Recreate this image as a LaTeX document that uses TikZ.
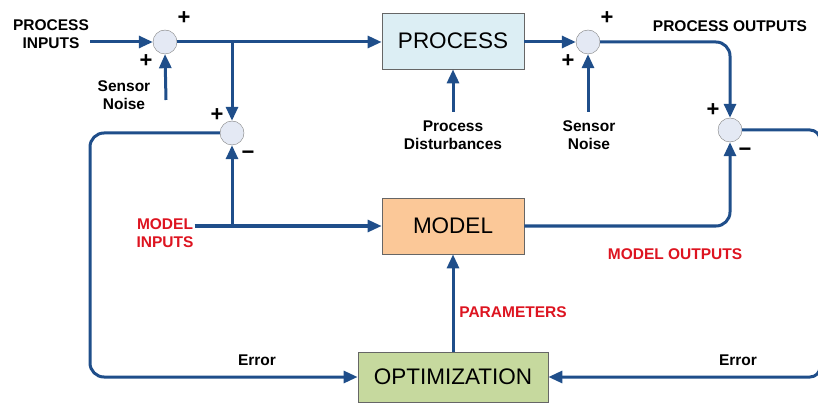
\documentclass[tikz,border=0pt]{standalone}
\usepackage{fontspec}
\setmainfont{Liberation Sans}
\usetikzlibrary{arrows.meta,positioning}
\definecolor{azul}{HTML}{1F4E8A}
\definecolor{sumfill}{HTML}{E4E9F4}
\definecolor{procfill}{HTML}{DCEEF4}
\definecolor{modfill}{HTML}{FBC898}
\definecolor{optfill}{HTML}{C6D99E}
\definecolor{rojo}{HTML}{DD1420}
\tikzset{
  flujo/.style={draw=azul, line width=3pt, -{Triangle[length=14pt,width=12pt]}},
  sumador/.style={circle, draw=gray, fill=sumfill, minimum size=24pt, inner sep=0pt},
  bloque/.style={draw=gray!80!black, line width=0.8pt, minimum width=142pt, minimum height=56pt,
    inner sep=0pt, font=\fontsize{22.5}{26}\selectfont},
  etiqueta/.style={font=\bfseries\fontsize{15.5}{17.5}\selectfont, align=center, inner sep=1pt},
  roja/.style={etiqueta, text=rojo},
  signo/.style={font=\bfseries\fontsize{22}{22}\selectfont, inner sep=0pt}
}
\begin{document}
\begin{tikzpicture}[x=1pt,y=-1pt]
    \useasboundingbox (0,0) rectangle (818,403);
    % Bloques
    \node[bloque, fill=procfill] (proc) at (453,41) {PROCESS};
    \node[bloque, fill=modfill] (model) at (453,226) {MODEL};
    \node[bloque, fill=optfill, minimum width=190pt, minimum height=50pt] (opt) at (453,377) {OPTIMIZATION};
    % Sumadores
    \node[sumador] (s1) at (165,42) {};
    \node[sumador] (s2) at (232,133) {};
    \node[sumador] (s3) at (588,42) {};
    \node[sumador] (s4) at (730,130) {};
    % Etiquetas
    \node[etiqueta] (pin) at (51,34) {PROCESS\\INPUTS};
    \node[etiqueta] (sn1) at (124,95) {Sensor\\Noise};
    \node[etiqueta] (pd) at (453,135) {Process\\Disturbances};
    \node[etiqueta] (sn2) at (589,135) {Sensor\\Noise};
    \node[etiqueta] (pout) at (730,26) {PROCESS OUTPUTS};
    \node[roja] (min) at (165,233) {MODEL\\INPUTS};
    \node[roja] (mout) at (675,254) {MODEL OUTPUTS};
    \node[roja] (par) at (513,312) {PARAMETERS};
    \node[etiqueta] (err1) at (257,360) {Error};
    \node[etiqueta] (err2) at (738,360) {Error};
    % Signos
    \node[signo] (p1) at (184,18) {+};
    \node[signo] (p2) at (146,61) {+};
    \node[signo] (p3) at (217,115) {+};
    \node[signo] (m1) at (248,155) {−};
    \node[signo] (p4) at (607,18) {+};
    \node[signo] (p5) at (568,61) {+};
    \node[signo] (p6) at (713,110) {+};
    \node[signo] (m2) at (745,152) {−};
    % Puntos libres
    \coordinate (n1) at (166,100);
    \coordinate (b1) at (232,42);
    \coordinate (b2) at (232,226);
    \coordinate (dist) at (453,112);
    \coordinate (n2) at (588,112);
    % Conexiones
    \draw[flujo] (pin.east |- s1) -- (s1.west);
    \draw[flujo] (n1) -- (s1.south);
    \draw[flujo] (s1.east) -- (s1.east -| proc.west);
    \draw[flujo] (b1) -- (s2.north);
    \draw[flujo,rounded corners=14pt] (s2.west) -- (90,133) |- (opt.west);
    \draw[flujo] (min.east |- model) -- (model.west);
    \draw[flujo] (b2) -- (s2.south);
    \draw[flujo] (proc.east |- s3) -- (s3.west);
    \draw[flujo] (dist) -- (proc.south);
    \draw[flujo] (n2) -- (s3.south);
    \draw[flujo,rounded corners=14pt] (s3.east) -| (s4.north);
    \draw[flujo,rounded corners=14pt] (model.east) -| (s4.south);
    \draw[flujo,rounded corners=10pt] (s4.east) -- (820,130) |- (opt.east);
    \draw[flujo] (opt.north) -- (model.south);
\end{tikzpicture}
\end{document}
